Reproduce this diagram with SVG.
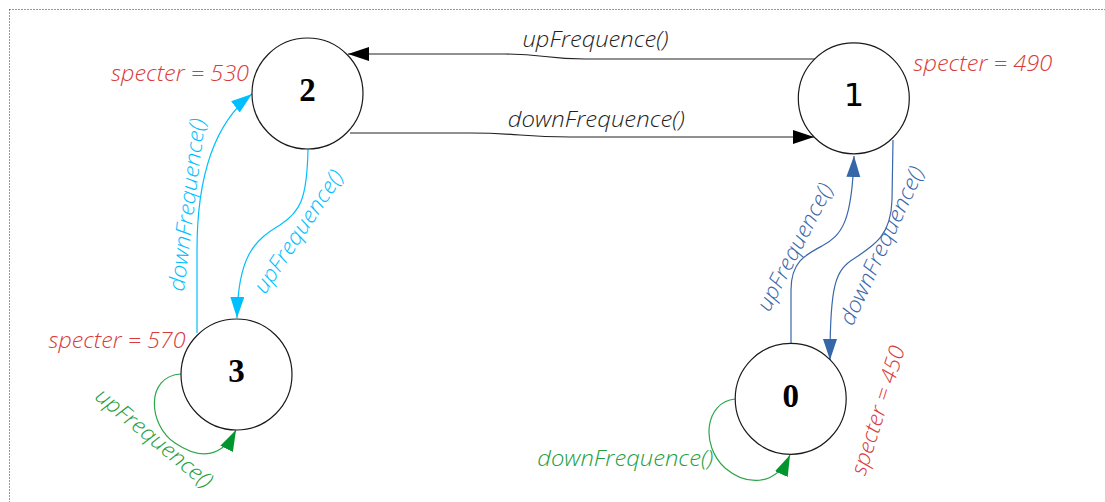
<svg xmlns="http://www.w3.org/2000/svg" width="1105" height="502" viewBox="0 0 1105 502">
  <style>
    .node { fill: #ffffff; stroke: #1a1a1a; stroke-width: 1.2; }
    .num { font-family: "Liberation Serif", "DejaVu Serif", serif; font-weight: bold; font-size: 33px; text-anchor: middle; fill: #000; }
    .num1 { font-family: "DejaVu Sans", sans-serif; font-weight: normal; font-size: 32px; text-anchor: middle; fill: #000; }
    .lbl { font-family: "Open Sans", "Noto Sans", "DejaVu Sans", sans-serif; font-style: italic; font-weight: 300; font-size: 22px; text-anchor: middle; }
    .red { fill: #d93a3a; }
    .blk { fill: #1e1e1e; }
    .cyan { fill: #00bfff; }
    .blue { fill: #3a67aa; }
    .green { fill: #22a040; }
    .e { fill: none; stroke-width: 1.2; }
    .eb { stroke: #222222; marker-end: url(#ab); }
    .ec { stroke: #00bfff; marker-end: url(#ac); }
    .eu { stroke: #3a67aa; marker-end: url(#au); }
    .eg { stroke: #2ca64a; marker-end: url(#ag); }
    .frame { stroke: #333333; stroke-width: 1; stroke-dasharray: 1 2; fill: none; }
  </style>
  <defs>
    <marker id="ab" markerUnits="userSpaceOnUse" markerWidth="22" markerHeight="15" refX="21" refY="7" orient="auto" viewBox="0 0 22 15">
      <path d="M0,0 L21,7 L0,14 z" fill="#000000"/>
    </marker>
    <marker id="ac" markerUnits="userSpaceOnUse" markerWidth="22" markerHeight="15" refX="21" refY="7" orient="auto" viewBox="0 0 22 15">
      <path d="M0,0 L21,7 L0,14 z" fill="#00bfff"/>
    </marker>
    <marker id="au" markerUnits="userSpaceOnUse" markerWidth="22" markerHeight="15" refX="21" refY="7" orient="auto" viewBox="0 0 22 15">
      <path d="M0,0 L21,7 L0,14 z" fill="#3466a8"/>
    </marker>
    <marker id="ag" markerUnits="userSpaceOnUse" markerWidth="22" markerHeight="15" refX="21" refY="7" orient="auto" viewBox="0 0 22 15">
      <path d="M0,0 L21,7 L0,14 z" fill="#00962e"/>
    </marker>
  </defs>

  <g id="frame">
    <line class="frame" x1="9.5" y1="9.5" x2="1105" y2="9.5"/>
    <line class="frame" x1="9.5" y1="9.5" x2="9.5" y2="502"/>
  </g>

  <g id="connectors">
    <path class="e eb" d="M815,59 L585,59 C545,59 545,54 505,54 L348,54"/>
    <text class="lbl blk" x="595.5" y="46.7" textLength="146" lengthAdjust="spacingAndGlyphs">upFrequence()</text>

    <path class="e eb" d="M350,133 L470,133 C520,133 520,137 570,137 L814,137"/>
    <text class="lbl blk" x="596.3" y="126.7" textLength="177" lengthAdjust="spacingAndGlyphs">downFrequence()</text>

    <path class="e ec" d="M197,333 L197,250 C197,180 212,125 252,94"/>
    <text class="lbl cyan" transform="translate(194.5,205.7) rotate(-82.9)" textLength="174" lengthAdjust="spacingAndGlyphs">downFrequence()</text>

    <path class="e ec" d="M308,149 C307,200 300,212 280,225 C255,240 238,255 237,318"/>
    <text class="lbl cyan" transform="translate(304.6,235.6) rotate(-56.3)" textLength="143" lengthAdjust="spacingAndGlyphs">upFrequence()</text>

    <path class="e eu" d="M791,343 L791,290 C791,262 805,255 822,246 C842,235 852,222 854,156"/>
    <text class="lbl blue" transform="translate(801.4,250.5) rotate(-62.6)" textLength="140" lengthAdjust="spacingAndGlyphs">upFrequence()</text>

    <path class="e eu" d="M893,140 L892,200 C891,235 875,245 855,258 C835,270 830,285 830,360"/>
    <text class="lbl blue" transform="translate(888.5,248.8) rotate(-65.2)" textLength="172" lengthAdjust="spacingAndGlyphs">downFrequence()</text>

    <path class="e eg" d="M181,374 C145,376 148,425 175,443 C200,460 222,458 236,430"/>
    <text class="lbl green" transform="translate(149.5,443.8) rotate(39.3)" textLength="144" lengthAdjust="spacingAndGlyphs">upFrequence()</text>

    <path class="e eg" d="M735,399 C705,402 700,445 725,468 C745,485 775,488 790,455"/>
    <text class="lbl green" x="625.3" y="465.7" textLength="176" lengthAdjust="spacingAndGlyphs">downFrequence()</text>
  </g>

  <g id="node-2">
    <circle class="node" cx="307.5" cy="93.5" r="55.5"/>
    <text class="num" x="307.5" y="100.5">2</text>
    <text class="lbl red" x="180" y="80.5" textLength="138" lengthAdjust="spacingAndGlyphs">specter = 530</text>
  </g>

  <g id="node-1">
    <circle class="node" cx="853.8" cy="98.3" r="55.5"/>
    <text class="num1" x="854" y="106">1</text>
    <text class="lbl red" x="982.8" y="71" textLength="139" lengthAdjust="spacingAndGlyphs">specter = 490</text>
  </g>

  <g id="node-3">
    <circle class="node" cx="236.5" cy="374.5" r="55.5"/>
    <text class="num" x="236.5" y="382">3</text>
    <text class="lbl red" x="117" y="348.3" textLength="137" lengthAdjust="spacingAndGlyphs">specter = 570</text>
  </g>

  <g id="node-0">
    <circle class="node" cx="790.7" cy="398.8" r="55.5"/>
    <text class="num" x="790.7" y="406.5">0</text>
    <text class="lbl red" transform="translate(885.2,412.7) rotate(-72.5)" textLength="134" lengthAdjust="spacingAndGlyphs">specter = 450</text>
  </g>
</svg>
